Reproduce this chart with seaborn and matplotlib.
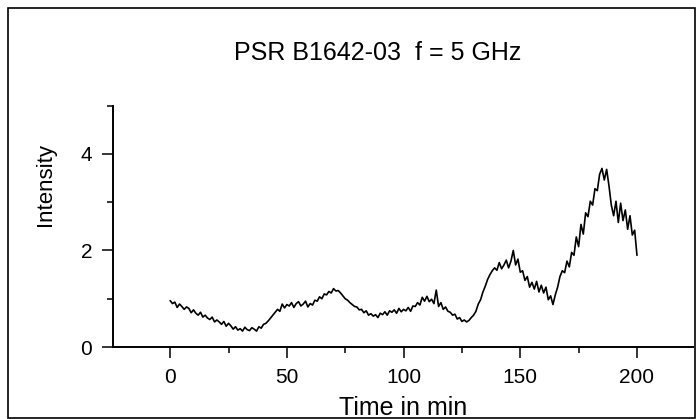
import matplotlib

matplotlib.use("Agg")
import matplotlib.pyplot as plt
import numpy as np
import pandas as pd
import seaborn as sns
from matplotlib.patches import Rectangle
from matplotlib.ticker import MultipleLocator

# time axis, one reading per minute
time_min = list(range(0, 201))

# intensity, ten minutes per row
intensity = [
    0.96, 0.90, 0.93, 0.82, 0.89, 0.84, 0.78, 0.83, 0.80, 0.71,
    0.77, 0.70, 0.66, 0.72, 0.62, 0.66, 0.60, 0.57, 0.62, 0.52,
    0.56, 0.52, 0.47, 0.53, 0.43, 0.49, 0.44, 0.37, 0.42, 0.35,
    0.38, 0.33, 0.41, 0.36, 0.34, 0.40, 0.37, 0.33, 0.42, 0.39,
    0.47, 0.49, 0.54, 0.60, 0.66, 0.72, 0.78, 0.74, 0.89, 0.81,
    0.88, 0.85, 0.92, 0.82, 0.90, 0.94, 0.85, 0.89, 0.95, 0.83,
    0.90, 0.87, 0.97, 0.95, 1.04, 1.00, 1.10, 1.08, 1.15, 1.12,
    1.21, 1.16, 1.17, 1.12, 1.06, 1.00, 0.97, 0.92, 0.88, 0.84,
    0.83, 0.77, 0.78, 0.71, 0.75, 0.66, 0.69, 0.64, 0.67, 0.61,
    0.70, 0.67, 0.73, 0.66, 0.75, 0.72, 0.77, 0.70, 0.80, 0.73,
    0.78, 0.75, 0.82, 0.74, 0.85, 0.84, 0.92, 0.87, 1.03, 0.95,
    1.05, 0.94, 0.99, 0.90, 1.18, 0.84, 0.92, 0.78, 0.83, 0.74,
    0.72, 0.66, 0.68, 0.58, 0.61, 0.53, 0.56, 0.52, 0.55, 0.61,
    0.66, 0.74, 0.89, 0.98, 1.14, 1.26, 1.40, 1.50, 1.58, 1.64,
    1.59, 1.75, 1.62, 1.70, 1.80, 1.64, 1.78, 2.00, 1.70, 1.82,
    1.55, 1.58, 1.38, 1.46, 1.24, 1.34, 1.20, 1.36, 1.14, 1.28,
    1.12, 1.24, 0.98, 1.06, 0.88, 1.08, 1.24, 1.46, 1.58, 1.54,
    1.78, 1.66, 1.96, 1.90, 2.28, 2.08, 2.54, 2.34, 2.78, 2.70,
    3.02, 2.94, 3.28, 3.24, 3.58, 3.70, 3.46, 3.68, 3.34, 2.94,
    2.72, 3.02, 2.58, 2.98, 2.62, 2.84, 2.44, 2.72, 2.32, 2.42,
    1.90,
]

x_ticks = [0, 50, 100, 150, 200]
y_ticks = [0, 2, 4]


def main():
    sns.set_style("ticks")
    plt.rcParams["font.family"] = ["Liberation Sans", "DejaVu Sans"]
    plt.rcParams["text.color"] = "black"
    plt.rcParams["axes.labelcolor"] = "black"

    df = pd.DataFrame({"Time": time_min, "Intensity": intensity})

    fig = plt.figure(figsize=(7.0, 4.19), dpi=100)
    ax = fig.add_axes([0.1614, 0.1718, 0.8286, 0.576])

    sns.lineplot(data=df, x="Time", y="Intensity", color="black", linewidth=1.2, ax=ax)

    ax.set_xlim(-24.5, 224)
    ax.set_ylim(0, 5)
    ax.set_xticks(x_ticks)
    ax.set_yticks(y_ticks)
    ax.xaxis.set_minor_locator(MultipleLocator(25))
    ax.yaxis.set_minor_locator(MultipleLocator(1))
    ax.tick_params(which="major", direction="out", length=8, width=1.1,
                   labelsize=15, color="black", labelcolor="black", pad=7)
    ax.tick_params(which="minor", direction="out", length=4, width=1.1, color="black")

    sns.despine(ax=ax)
    for side in ["left", "bottom"]:
        ax.spines[side].set_linewidth(1.4)
        ax.spines[side].set_color("black")

    ax.set_xlabel("Time in min", fontsize=18, color="black")
    ax.set_ylabel("Intensity", fontsize=16, color="black")
    ax.xaxis.set_label_coords(0.5, -0.205)
    ax.yaxis.set_label_coords(-0.098, 0.675)

    fig.text(378 / 700, 1 - 60 / 419, "PSR B1642-03  f = 5 GHz",
             ha="center", va="baseline", fontsize=18, color="black")

    # frame round the whole figure, as in the scan
    fig.patches.append(Rectangle((8 / 700, 1.5 / 419), 687 / 700, 409 / 419,
                                 transform=fig.transFigure, fill=False,
                                 edgecolor="black", linewidth=1.2))

    fig.savefig("out.png", dpi=100)
    plt.close(fig)


if __name__ == "__main__":
    main()
